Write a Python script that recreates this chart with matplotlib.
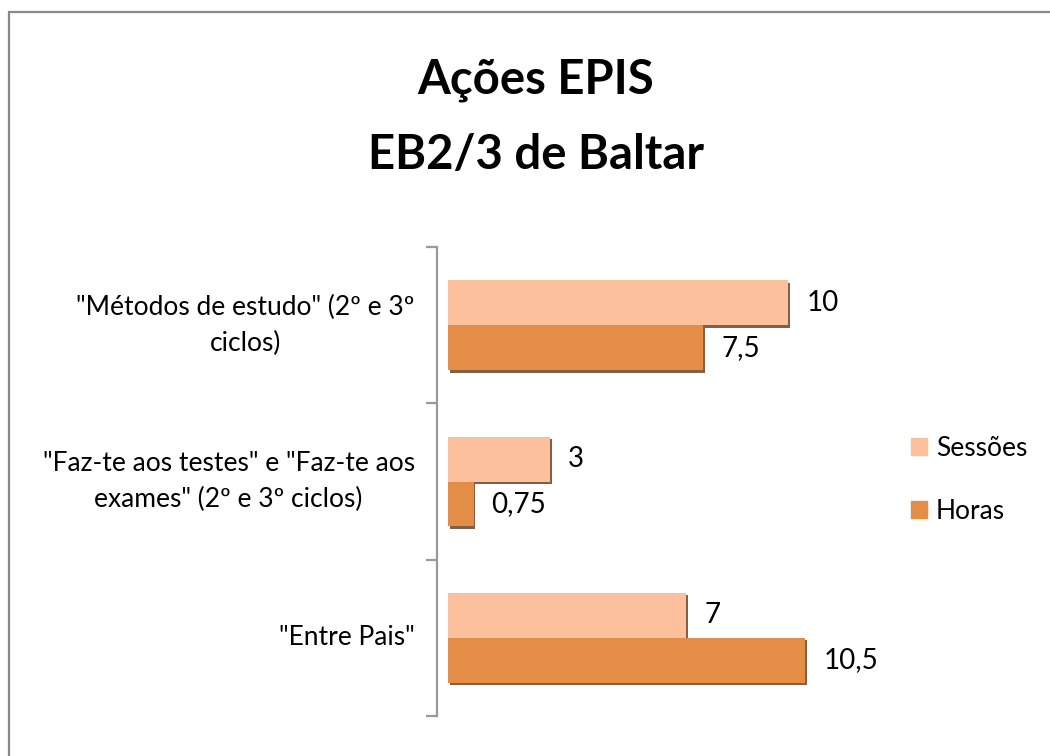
import numpy as np
import matplotlib.pyplot as plt
import matplotlib.patheffects as pe
from matplotlib.patches import Rectangle, Patch

categories = ['"Métodos de estudo" (2º e 3º\nciclos)',
              '"Faz-te aos testes" e "Faz-te aos\nexames" (2º e 3º ciclos)',
              '"Entre Pais"']
sessoes = [10, 3, 7]
horas = [7.5, 0.75, 10.5]
series_names = ['Sessões', 'Horas']

c_sess = '#FCC09C'
c_hor = '#E38D47'

plt.rcParams['font.family'] = ['Lato', 'DejaVu Sans']

fig = plt.figure(figsize=(10.5, 7.56), dpi=100)
fig.set_facecolor('w')

# outer frame (runs off the right and bottom edges in the original)
fig.add_artist(Rectangle((9 / 1050, -0.1), 1.2, 1.1 - 12 / 756,
                         transform=fig.transFigure, fill=False,
                         edgecolor='#888888', lw=1.6))

ax = fig.add_axes([448 / 1050, 1 - 716 / 756, 422 / 1050, (716 - 247) / 756])

y = np.arange(len(categories))
h = 0.2875
shadow = [pe.SimplePatchShadow(offset=(1.2, -1.8), shadow_rgbFace='#5a3a22', alpha=0.8),
          pe.Normal()]
b1 = ax.barh(y - h / 2, sessoes, height=h, color=c_sess, label=series_names[0])
b2 = ax.barh(y + h / 2, horas, height=h, color=c_hor, label=series_names[1])
for b in list(b1) + list(b2):
    b.set_path_effects(shadow)

def fmt(v):
    return f'{v:g}'.replace('.', ',')

for bars, vals in ((b1, sessoes), (b2, horas)):
    for bar, v in zip(bars, vals):
        ax.annotate(fmt(v), (v, bar.get_y() + bar.get_height() / 2),
                    xytext=(13, 0), textcoords='offset points',
                    va='center', ha='left', fontsize=20)

ax.set_xlim(0, 12.4)
ax.set_ylim(2.5, -0.5)
ax.set_xticks([])
ax.set_yticks(y)
ax.set_yticklabels([''] * len(categories))
ax.set_yticks([-0.5, 0.5, 1.5, 2.5], minor=True)
ax.tick_params(axis='y', which='major', length=0)
ax.tick_params(axis='y', which='minor', length=8, width=1.6, color='#999999')
# category labels, centred line by line
for yi, cat in zip(y, categories):
    ax.annotate(cat, (0, yi), xycoords=ax.get_yaxis_transform(),
                xytext=(-24, 0), textcoords='offset points',
                ha='right', va='center', multialignment='center',
                fontsize=19, linespacing=1.55)
for s in ['top', 'right', 'bottom']:
    ax.spines[s].set_visible(False)
ax.spines['left'].set_position(('outward', 8))
ax.spines['left'].set_color('#999999')
ax.spines['left'].set_linewidth(1.6)

fig.text(0.51, 1 - 80 / 756, 'Ações EPIS', ha='center', va='center',
         fontsize=34, fontweight='bold')
fig.text(0.51, 1 - 155 / 756, 'EB2/3 de Baltar', ha='center', va='center',
         fontsize=34, fontweight='bold')

handles = [Patch(color=c_sess, label=series_names[0]),
           Patch(color=c_hor, label=series_names[1])]
fig.legend(handles=handles, loc='center left',
           bbox_to_anchor=(887 / 1050, 1 - 480 / 756), frameon=False,
           fontsize=19, handlelength=0.6, handleheight=0.6,
           handletextpad=0.35, labelspacing=1.45)

fig.savefig('out.png', dpi=100)
